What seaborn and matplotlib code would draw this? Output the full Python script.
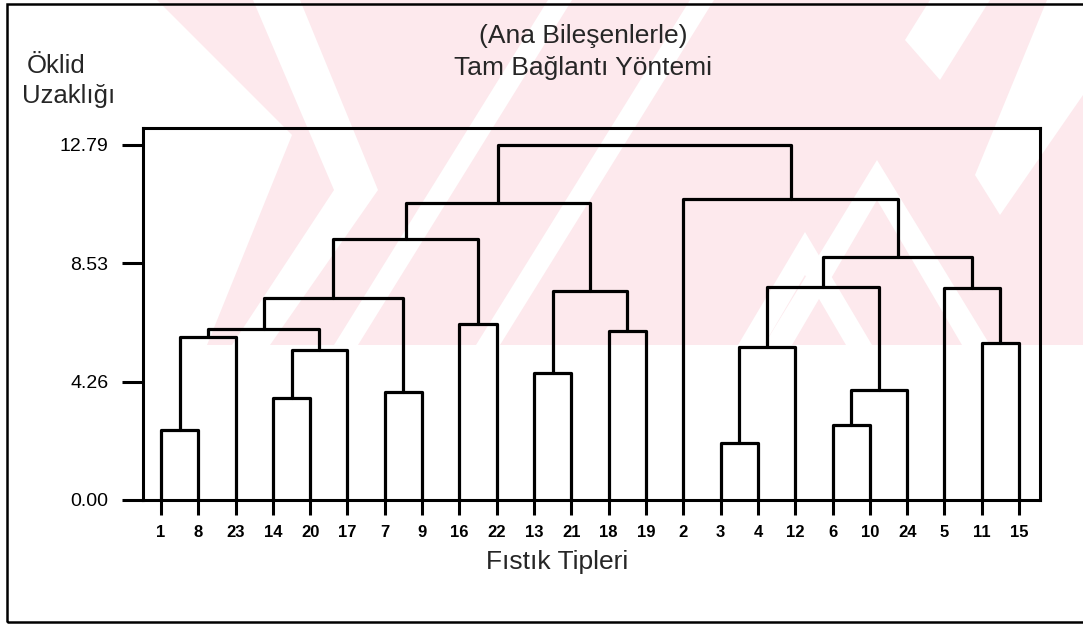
import matplotlib
matplotlib.use("Agg")
import matplotlib.pyplot as plt
from matplotlib.patches import Polygon, Rectangle
import seaborn as sns
import numpy as np
import pandas as pd

# ---------------- data ----------------
leaf_labels = ["1", "8", "23", "14", "20", "17", "7", "9", "16", "22", "13", "21",
               "18", "19", "2", "3", "4", "12", "6", "10", "24", "5", "11", "15"]

# complete-linkage merges: new node = merge of (left, right) at height
merge_names   = ["m0", "m1", "m2", "m3", "m4", "m5", "m6", "m7", "m8", "m9", "m10",
                 "m11", "m12", "m13", "m14", "m15", "m16", "m17", "m18", "m19",
                 "m20", "m21", "m22"]
merge_left    = ["3", "1", "6", "14", "7", "m2", "13", "m0", "m3", "11", "m1",
                 "18", "m10", "16", "m12", "m6", "5", "m7", "m17", "m14",
                 "m19", "2", "m20"]
merge_right   = ["4", "8", "10", "20", "9", "24", "21", "12", "17", "15", "23",
                 "19", "m8", "22", "m4", "m11", "m9", "m5", "m16", "m13",
                 "m15", "m18", "m21"]
merge_heights = [2.04, 2.52, 2.70, 3.66, 3.90, 3.95, 4.56, 5.52, 5.40, 5.64, 5.88,
                 6.10, 6.15, 6.34, 7.27, 7.54, 7.63, 7.68, 8.74, 9.40,
                 10.69, 10.83, 12.79]

ytick_values = [0.00, 4.26, 8.53, 12.79]
ytick_labels = ["0.00", "4.26", "8.53", "12.79"]

title_lines = ["(Ana Bileşenlerle)", "Tam Bağlantı Yöntemi"]
ylabel_lines = ["Öklid", "Uzaklığı"]
xlabel = "Fıstık Tipleri"

# ---------------- build dendrogram segments ----------------
pos = {lab: float(i) for i, lab in enumerate(leaf_labels)}
hgt = {lab: 0.0 for lab in leaf_labels}
frames = []
for name, a, b, h in zip(merge_names, merge_left, merge_right, merge_heights):
    xa, xb = pos[a], pos[b]
    ya, yb = hgt[a], hgt[b]
    frames.append(pd.DataFrame({"x": [xa, xa, xb, xb],
                                "y": [ya, h, h, yb],
                                "seg": name}))
    pos[name] = (xa + xb) / 2.0
    hgt[name] = h
segs = pd.concat(frames, ignore_index=True)

# ---------------- plotting ----------------
sns.set_theme(style="white")
plt.rcParams["font.family"] = ["Liberation Sans", "DejaVu Sans"]

W, H = 1083, 625
fig = plt.figure(figsize=(W / 100, H / 100), dpi=100)
fig.patch.set_facecolor("white")

# ---- faint background watermark (pink diagonal stripes, upper part of page) ----
bg = fig.add_axes([0, 0, 1, 1], zorder=-10)
bg.set_xlim(0, W)
bg.set_ylim(H, 0)
bg.axis("off")
PINK = "#fde9ed"
bg.add_patch(Rectangle((150, 0), W - 150, 345, facecolor=PINK, edgecolor="none"))
white_shapes = [
    [(0, 0), (157, 0), (292, 135), (207, 345), (0, 345)],
    [(253, 0), (300, 0), (378, 190), (270, 345), (232, 345), (334, 190)],
    [(548, 0), (572, 0), (358, 345), (334, 345)],
    [(690, 0), (714, 0), (500, 345), (476, 345)],
    [(877, 160), (990, 345), (962, 345), (877, 200), (792, 345), (764, 345)],
    [(805, 232), (872, 345), (846, 345), (805, 275), (764, 345), (738, 345)],
    [(1047, 0), (1083, 0), (1083, 95), (1000, 215), (975, 175)],
    [(930, 0), (990, 0), (940, 80), (905, 40)],
]
for pts in white_shapes:
    bg.add_patch(Polygon(pts, closed=True, facecolor="white", edgecolor="none"))

ax = fig.add_axes([143 / W, 1 - 500 / H, (1040 - 143) / W, (500 - 128) / H])
ax.set_facecolor("none")

sns.lineplot(data=segs, x="x", y="y", units="seg", estimator=None, sort=False,
             color="black", lw=2.3, ax=ax, legend=False)

ax.set_xlim(-0.48, len(leaf_labels) - 1 + 0.56)
ax.set_ylim(0, 13.40)

ax.set_xticks(range(len(leaf_labels)))
ax.set_xticklabels(leaf_labels, fontsize=12, fontweight="bold")
ax.set_yticks(ytick_values)
ax.set_yticklabels(ytick_labels, fontsize=14)
ax.tick_params(axis="x", direction="out", length=11, width=2.2, pad=7,
               color="black", labelcolor="black", bottom=True)
ax.tick_params(axis="y", direction="out", length=15, width=2.2, pad=10,
               color="black", labelcolor="black", left=True)
ax.set_xlabel("")
ax.set_ylabel("")
for s in ax.spines.values():
    s.set_visible(True)
    s.set_color("black")
    s.set_linewidth(2.2)

# titles / labels as figure text
fig.text(583 / W, 1 - 43 / H, title_lines[0], ha="center", va="baseline", fontsize=19)
fig.text(583 / W, 1 - 75 / H, title_lines[1], ha="center", va="baseline", fontsize=19)
fig.text(27 / W, 1 - 73 / H, ylabel_lines[0], ha="left", va="baseline", fontsize=18.5)
fig.text(22 / W, 1 - 103 / H, ylabel_lines[1], ha="left", va="baseline", fontsize=18.5)
fig.text(557 / W, 1 - 569 / H, xlabel, ha="center", va="baseline", fontsize=19)

# outer frame
frame = Rectangle((7 / W, 1 - 622 / H), 1.2, (622 - 4) / H, transform=fig.transFigure,
                  fill=False, edgecolor="black", lw=1.8, clip_on=False)
fig.add_artist(frame)

fig.savefig("out.png", dpi=100, facecolor="white")
